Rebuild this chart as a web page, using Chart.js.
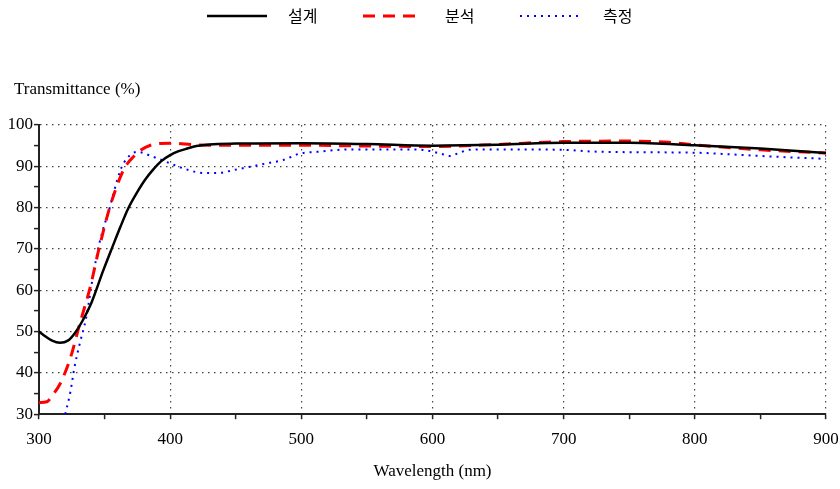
<!DOCTYPE html>
<html>
<head>
<meta charset="utf-8">
<script src="https://cdn.jsdelivr.net/npm/chart.js@4"></script>
<style>
  body { margin: 0; background: #fff; }
</style>
</head>
<body>
<canvas id="myChart" width="840" height="489"></canvas>
<script>
var seriesNames = ['설계', '분석', '측정'];
var yTitle = 'Transmittance (%)';
var xTitle = 'Wavelength (nm)';

// 설계 (design)
var designNm = [300, 305, 310, 316, 322, 327, 333, 340, 349, 356, 362, 368, 375, 381, 387, 393, 400, 406, 413, 420, 430, 450, 500, 550, 600, 650, 700, 750, 800, 850, 900];
var designT = [50.0, 48.8, 47.8, 47.3, 47.8, 49.5, 52.5, 57.0, 64.8, 70.5, 75.3, 79.8, 83.8, 86.8, 89.2, 91.2, 92.7, 93.6, 94.3, 94.9, 95.3, 95.5, 95.6, 95.4, 95.0, 95.2, 95.7, 95.7, 95.1, 94.3, 93.2];

// 분석 (analysis)
var analysisNm = [300, 306, 310, 316, 324, 331, 339, 346, 354, 362, 367, 372, 378, 385, 400, 420, 450, 500, 550, 600, 650, 700, 750, 780, 800, 850, 900];
var analysisT = [32.8, 33.0, 34.5, 37.3, 43.7, 51.8, 60.7, 70.4, 80.1, 87.4, 90.5, 92.3, 94.0, 95.1, 95.6, 95.2, 95.1, 95.1, 94.9, 94.8, 95.3, 96.0, 96.1, 95.8, 95.2, 94.0, 93.2];

// 측정 (measured)
var measuredNm = [320, 324, 327, 331, 336, 341, 346, 354, 362, 367, 375, 387, 400, 413, 425, 436, 450, 461, 475, 486, 499, 512, 537, 588, 598, 607, 613, 620, 628, 650, 700, 720, 760, 800, 838, 870, 900];
var measuredT = [30.0, 35.5, 41.3, 47.0, 53.4, 63.1, 71.3, 80.1, 89.0, 91.9, 93.5, 92.3, 90.7, 89.2, 88.4, 88.4, 89.2, 89.9, 90.8, 91.5, 93.1, 93.5, 94.1, 94.1, 93.7, 93.0, 92.5, 93.2, 94.0, 94.1, 94.0, 93.6, 93.4, 93.3, 92.7, 92.2, 91.8];

function pts(xs, ys) {
  return xs.map(function (x, i) { return { x: x, y: ys[i] }; });
}

var serif = 'Liberation Serif';

// legend row at the top and the y title above the axis, like the original
var topLegend = {
  id: 'topLegend',
  afterDraw: function (chart) {
    var ctx = chart.ctx;
    var spots = [[207, 267, 288], [363, 420, 445], [520, 580, 603]];
    ctx.save();
    chart.data.datasets.forEach(function (ds, i) {
      var s = spots[i];
      ctx.strokeStyle = ds.borderColor;
      ctx.lineWidth = ds.borderWidth;
      ctx.setLineDash(ds.borderDash || []);
      ctx.beginPath();
      ctx.moveTo(s[0], 16);
      ctx.lineTo(s[1], 16);
      ctx.stroke();
      ctx.setLineDash([]);
      ctx.fillStyle = '#000';
      ctx.font = '16px "Noto Sans CJK KR"';
      ctx.textBaseline = 'middle';
      ctx.fillText(ds.label, s[2], 16);
    });
    ctx.font = '17px "' + serif + '"';
    ctx.fillText(yTitle, 14, 90);
    ctx.restore();
  }
};

new Chart('myChart', {
  type: 'line',
  data: {
    datasets: [
      {
        label: seriesNames[0],
        data: pts(designNm, designT),
        borderColor: '#000',
        borderWidth: 2.5,
        pointRadius: 0,
        cubicInterpolationMode: 'monotone',
      },
      {
        label: seriesNames[1],
        data: pts(analysisNm, analysisT),
        borderColor: '#ff0000',
        borderWidth: 3,
        borderDash: [12, 8],
        pointRadius: 0,
        cubicInterpolationMode: 'monotone',
      },
      {
        label: seriesNames[2],
        data: pts(measuredNm, measuredT),
        borderColor: '#0000ff',
        borderWidth: 2,
        borderDash: [2, 5],
        pointRadius: 0,
        cubicInterpolationMode: 'monotone',
      },
    ],
  },
  options: {
    responsive: false,
    animation: false,
    layout: {
      padding: { left: 0, right: 0, top: 125, bottom: 3 },
    },
    plugins: {
      legend: { display: false },
      tooltip: { enabled: false },
      title: { display: false },
    },
    scales: {
      x: {
        type: 'linear',
        min: 300,
        max: 900,
        afterFit: function (s) { s.paddingLeft = 0; s.paddingRight = 14; },
        border: { color: '#222', width: 2, dash: [1.5, 4.5] },
        grid: {
          color: function (c) {
            var v = c.tick && c.tick.value;
            return (v % 100 === 0 && v !== 300) ? '#444' : 'rgba(0,0,0,0)';
          },
          lineWidth: 1.2,
          tickColor: '#222',
          tickBorderDash: [],
          tickLength: 5,
          tickWidth: 1.5,
        },
        ticks: {
          stepSize: 50,
          autoSkip: false,
          maxRotation: 0,
          padding: 10,
          color: '#000',
          font: { family: serif, size: 17 },
          callback: function (v) { return v % 100 === 0 ? v : ''; },
        },
        title: {
          display: true,
          text: xTitle,
          color: '#000',
          padding: { top: 2, bottom: 4 },
          font: { family: serif, size: 17 },
        },
      },
      y: {
        min: 30,
        max: 100,
        afterFit: function (s) { s.width = 39; },
        border: { color: '#222', width: 2, dash: [1.5, 4.5] },
        grid: {
          color: function (c) {
            var v = c.tick && c.tick.value;
            return (v % 10 === 0 && v !== 30) ? '#444' : 'rgba(0,0,0,0)';
          },
          lineWidth: 1.2,
          tickColor: '#222',
          tickBorderDash: [],
          tickLength: 5,
          tickWidth: 1.5,
        },
        ticks: {
          stepSize: 5,
          maxTicksLimit: 20,
          autoSkip: false,
          padding: 1,
          color: '#000',
          font: { family: serif, size: 17 },
          callback: function (v) { return v % 10 === 0 ? v : ''; },
        },
      },
    },
  },
  plugins: [topLegend],
});
</script>
</body>
</html>
